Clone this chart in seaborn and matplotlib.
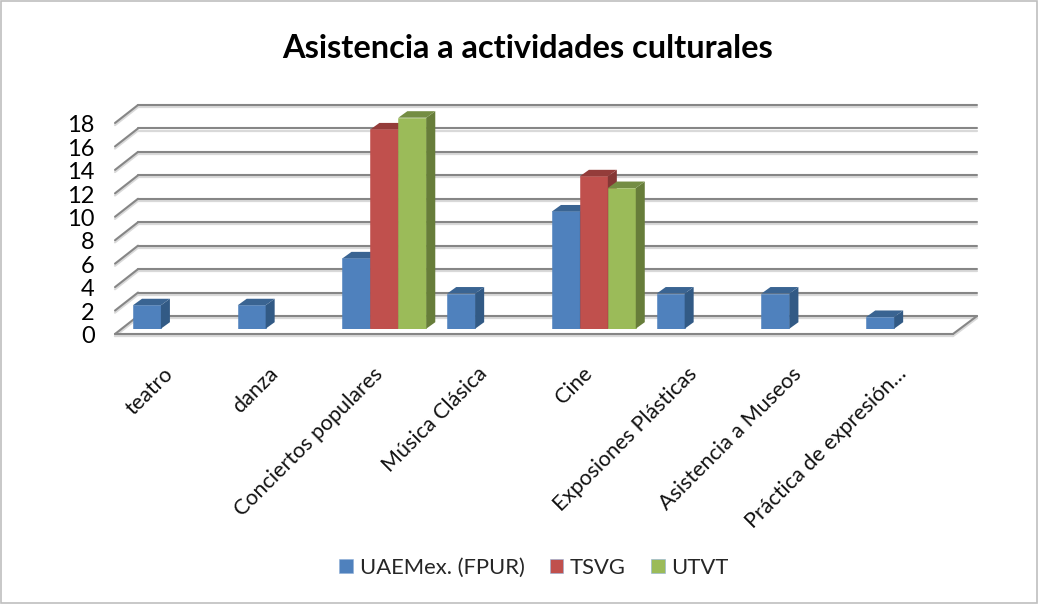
import numpy as np
import pandas as pd
import seaborn as sns
import matplotlib.pyplot as plt
from matplotlib.patches import Polygon, Rectangle
from matplotlib.transforms import ScaledTranslation

categorias = ['teatro', 'danza', 'Conciertos populares', 'Música Clásica', 'Cine',
              'Exposiones Plásticas', 'Asistencia a Museos', 'Práctica de expresión…']
uaemex = [2, 2, 6, 3, 10, 3, 3, 1]
tsvg = [np.nan, np.nan, 17, np.nan, 13, np.nan, np.nan, np.nan]
utvt = [np.nan, np.nan, 18, np.nan, 12, np.nan, np.nan, np.nan]
series = ['UAEMex. (FPUR)', 'TSVG', 'UTVT']
colores = ['#4F81BD', '#C0504D', '#9BBB59']
lados = ['#325A85', '#853735', '#677D3A']
techos = ['#3A6492', '#943C3A', '#748D43']
ticks_y = list(range(0, 20, 2))

W, H = 1039, 605
sns.set_theme(style='white')
plt.rcParams['font.family'] = ['Lato', 'DejaVu Sans']

df = pd.DataFrame({'categoria': categorias, series[0]: uaemex, series[1]: tsvg, series[2]: utvt})
df = df.melt(id_vars='categoria', var_name='serie', value_name='valor').dropna()

fig = plt.figure(figsize=(W / 100, H / 100), dpi=100)
# plano donde se apoyan las barras, en pixeles de la imagen
left, right, base, top = 122.5, 960.5, 328.7, 117.7
ax = fig.add_axes([left / W, 1 - base / H, (right - left) / W, (base - top) / H])

sns.barplot(data=df, x='categoria', y='valor', hue='serie', order=categorias, hue_order=series,
            palette=colores, width=0.8, saturation=1, gap=0, ax=ax, zorder=3, edgecolor='#8FB0D8',
            linewidth=0.4)
ax.set_xlim(-0.5, 7.5)
ax.set_ylim(0, 18)

px = (right - left) / 8
py = (base - top) / 18
# profundidad de la barra y del piso
bx, by = 9 / px, 6.5 / py
gx, gy = 15.5 / px, 12.7 / py
fx, fy = 7.5 / px, 5.3 / py

# paredes y piso
x0, x1 = -0.5, 7.5
for sombra, col, lw in [(0.18, '#D9D9D9', 1.6), (0, '#868686', 1.5)]:
    for v in ticks_y:
        ax.plot([x0 + gx, x1 + 16.5 / px], [v + gy - sombra, v + gy - sombra], color=col, lw=lw, clip_on=False, zorder=1)
        ax.plot([x0 - fx, x0 + gx], [v - fy - sombra, v + gy - sombra], color=col, lw=lw, clip_on=False, zorder=1)
    ax.plot([x0 - fx, x1 - fx], [-fy - sombra, -fy - sombra], color=col, lw=lw, clip_on=False, zorder=1)
    ax.plot([x1 - fx, x1 + 16.5 / px], [-fy - sombra, gy - sombra], color=col, lw=lw, clip_on=False, zorder=1)

# caras laterales y de arriba de cada barra
for i, cont in enumerate(ax.containers):
    for bar in cont:
        h = bar.get_height()
        if not np.isfinite(h) or h == 0:
            continue
        a, b = bar.get_x(), bar.get_x() + bar.get_width()
        bar.set_zorder(3 + i)
        bar.set_edgecolor(colores[i])
        ax.add_patch(Polygon([(b, 0), (b + bx, by), (b + bx, h + by), (b, h)], closed=True,
                             facecolor=lados[i], edgecolor='none', zorder=3 + i, clip_on=False))
        ax.add_patch(Polygon([(a, h), (b, h), (b + bx, h + by), (a + bx, h + by)], closed=True,
                             facecolor=techos[i], edgecolor='none', zorder=3 + i, clip_on=False))

sns.despine(ax=ax, left=True, bottom=True)
ax.set_xlabel('')
ax.set_ylabel('')
ax.set_yticks(ticks_y)
ax.set_yticklabels([str(v) for v in ticks_y], fontsize=17, color='black')
ax.tick_params(axis='y', length=0, pad=20)
for lab in ax.get_yticklabels():
    lab.set_transform(lab.get_transform() + ScaledTranslation(0, -6 / 100, fig.dpi_scale_trans))

ax.set_xticks(range(8))
ax.set_xticklabels(categorias, rotation=45, ha='right', rotation_mode='anchor', fontsize=15.5, color='#111111')
ax.tick_params(axis='x', length=0, pad=0)
for lab in ax.get_xticklabels():
    lab.set_transform(lab.get_transform() + ScaledTranslation(-12 / 100, -35 / 100, fig.dpi_scale_trans))

fig.text(528 / W, 1 - 49 / H, 'Asistencia a actividades culturales', ha='center', va='center',
         fontsize=23.4, fontweight='bold', color='black')

sns.move_legend(ax, 'center', bbox_to_anchor=(534 / W, 1 - 568 / H), bbox_transform=fig.transFigure,
                ncol=3, title=None, frameon=False, fontsize=15.8, handlelength=0.62, handleheight=0.62,
                handletextpad=0.3, columnspacing=1.15)

fig.add_artist(Rectangle((0.001, 0.003), 0.997, 0.996, transform=fig.transFigure, fill=False,
                         edgecolor='#BFBFBF', lw=1.2))
fig.savefig('out.png', dpi=100)
